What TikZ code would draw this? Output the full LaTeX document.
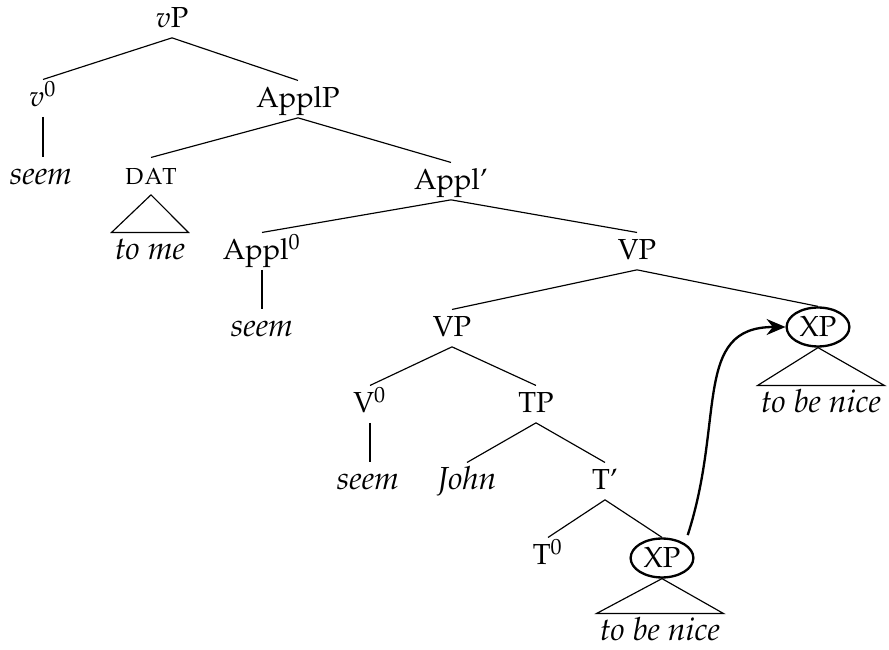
\documentclass[tikz,border=0pt]{standalone}
\usepackage[T1]{fontenc}
\usepackage{mathpazo}
\usetikzlibrary{shapes.geometric,arrows.meta}

\begin{document}
\begin{tikzpicture}[x=0.345pt,y=-0.345pt,
	cat/.style={anchor=base,inner sep=1pt,text height=8.3pt,text depth=2.2pt},
	word/.style={cat,font=\fontsize{11}{13}\selectfont\itshape},
	moved/.style={ellipse,draw,thick,anchor=base,inner sep=1.3pt,text height=6.9pt,text depth=0pt},
	move/.style={thick,-{Stealth[length=6.5pt,width=5.5pt]}}]
	
	\useasboundingbox (0,0) rectangle (889,650);
	
	%%%%%%%%%%%%%%%%%%%%%%%%%%%%%%%%%%%%%%%%%%%%%%%%%%%%%%
	
	\node [cat] (vp) at (172,28) {$v$P};
	\node [cat] (v-zero) at (43,107) {$v^0$};
	\node [cat] (applp) at (298,108) {ApplP};
	\draw (vp.south) -- (v-zero.north);
	\draw (vp.south) -- (applp.north);
	
	\node [word] (seem-v) at (41,185) {seem};
	\draw (v-zero.south) -- (v-zero.south |- seem-v.north);
	
	%%%%%%%%%%%%%%%%%%%%%%%%%%%%%%%%%%%%%%%%%%%%%%%%%%%%%%
	
	\node [cat] (dat) at (151,185) {\textsc{dat}};
	\node [cat] (appl-bar) at (451,190) {Appl'};
	\draw (applp.south) -- (dat.north);
	\draw (applp.south) -- (appl-bar.north);
	
	\node [word] (to-me) at (150,260) {to me};
	\draw (dat.south) -- (to-me.north west) -- (to-me.north east) -- cycle;
	
	%%%%%%%%%%%%%%%%%%%%%%%%%%%%%%%%%%%%%%%%%%%%%%%%%%%%%%
	
	\node [cat] (appl-zero) at (262,260) {Appl$^0$};
	\node [cat] (vp-upper) at (637,260) {VP};
	\draw (appl-bar.south) -- (appl-zero.north);
	\draw (appl-bar.south) -- (vp-upper.north);
	
	\node [word] (seem-appl) at (262,337) {seem};
	\draw (appl-zero.south) -- (seem-appl.north);
	
	%%%%%%%%%%%%%%%%%%%%%%%%%%%%%%%%%%%%%%%%%%%%%%%%%%%%%%
	
	\node [cat] (vp-lower) at (452,337) {VP};
	\node [moved] (xp-upper) at (818,337) {XP};
	\draw (vp-upper.south) -- (vp-lower.north);
	\draw (vp-upper.south) -- (xp-upper.north);
	
	\node [word] (nice-upper) at (821,413) {to be nice};
	\draw (xp-upper.south) -- (nice-upper.north west) -- (nice-upper.north east) -- cycle;
	
	%%%%%%%%%%%%%%%%%%%%%%%%%%%%%%%%%%%%%%%%%%%%%%%%%%%%%%
	
	\node [cat] (v-zero-lower) at (370,413) {V$^0$};
	\node [cat] (tp) at (536,413) {TP};
	\draw (vp-lower.south) -- (v-zero-lower.north);
	\draw (vp-lower.south) -- (tp.north);
	
	\node [word] (seem-v-lower) at (368,490) {seem};
	\draw (v-zero-lower.south) -- (v-zero-lower.south |- seem-v-lower.north);
	
	%%%%%%%%%%%%%%%%%%%%%%%%%%%%%%%%%%%%%%%%%%%%%%%%%%%%%%
	
	\node [word] (john) at (467,490) {John};
	\node [cat] (t-bar) at (605,490) {T'};
	\draw (tp.south) -- (john.north);
	\draw (tp.south) -- (t-bar.north);
	
	\node [cat] (t-zero) at (548,565) {T$^0$};
	\node [moved] (xp-lower) at (662,568) {XP};
	\draw (t-bar.south) -- (t-zero.north);
	\draw (t-bar.south) -- (xp-lower.north);
	
	\node [word] (nice-lower) at (660,641) {to be nice};
	\draw (xp-lower.south) -- (nice-lower.north west) -- (nice-lower.north east) -- cycle;
	
	%%%%%%%%%%%%%%%%%%%%%%%%%%%%%%%%%%%%%%%%%%%%%%%%%%%%%%
	
	\draw [move,shorten <=3pt] (xp-lower.north east) to [out=72,in=180,out looseness=1.4,in looseness=1] (xp-upper.west);
	
	%%%%%%%%%%%%%%%%%%%%%%%%%%%%%%%%%%%%%%%%%%%%%%%%%%%%%%
	
\end{tikzpicture}
\end{document}
